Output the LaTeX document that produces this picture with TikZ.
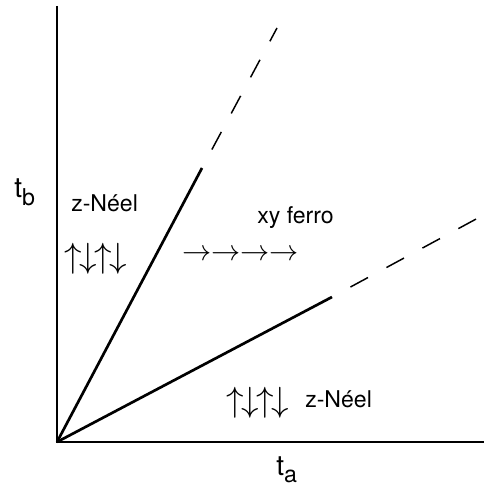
\documentclass[tikz,border=0pt]{standalone}
\usepackage{fontspec}
\setmainfont{TeX Gyre Heros}
\usetikzlibrary{calc}
\tikzset{
  axis/.style={line width=0.95pt},
  phaseline/.style={line width=1.9pt},
  extline/.style={line width=1.05pt,dash pattern=on 14.2pt off 14.9pt,dash phase=14.2pt},
  lbl/.style={inner sep=0pt,font=\fontsize{16.4}{18}\selectfont},
  spins/.style={inner sep=0pt,font=\fontsize{22}{24}\selectfont},
  zspins/.style={inner sep=0pt,font=\fontsize{25}{27}\selectfont}
}
\newcommand{\axlabel}[2]{\fontsize{20}{22}\selectfont #1\raisebox{-5.5pt}{\fontsize{16.5}{18}\selectfont #2}}
\newcommand{\spinarr}[1]{\makebox[10.7pt]{$#1$}}
\begin{document}
\begin{tikzpicture}[x=0.025cm,y=0.025cm]
  \useasboundingbox (0,0) rectangle (485,486);
  % axes
  \coordinate (O) at (57,44);
  \coordinate (ytop) at (57,480);
  \coordinate (xend) at (484,44);
  \draw[axis] (ytop)--(O)--(xend);
  % phase boundaries, solid part and dashed continuation
  \coordinate (upend) at (202,318);
  \coordinate (uptip) at (277,458);
  \coordinate (loend) at (332,189);
  \coordinate (lotip) at (478,268);
  \draw[phaseline] (O)--(upend);
  \draw[phaseline] (O)--(loend);
  \draw[extline] (upend)--(uptip);
  \draw[extline] (loend)--(lotip);
  % axis labels
  \node[inner sep=0pt,anchor=base west] (tb) at (14,288) {\axlabel{t}{b}};
  \node[inner sep=0pt,anchor=base west] (ta) at (276,11) {\axlabel{t}{a}};
  % phases
  \node[lbl,anchor=base west] (neelup) at (71,274) {z-Néel};
  \node[zspins] (spinsup) at (95.5,227) {\spinarr\uparrow\spinarr\downarrow\spinarr\uparrow\spinarr\downarrow};
  \node[lbl,anchor=base west] (ferro) at (257,262) {xy ferro};
  \node[spins] (spinsxy) at (240.5,231) {$\rightarrow\rightarrow\rightarrow\rightarrow$};
  \node[zspins] (spinslo) at (257.5,83) {\spinarr\uparrow\spinarr\downarrow\spinarr\uparrow\spinarr\downarrow};
  \node[lbl,anchor=base west] (neello) at (305,78) {z-Néel};
\end{tikzpicture}
\end{document}
